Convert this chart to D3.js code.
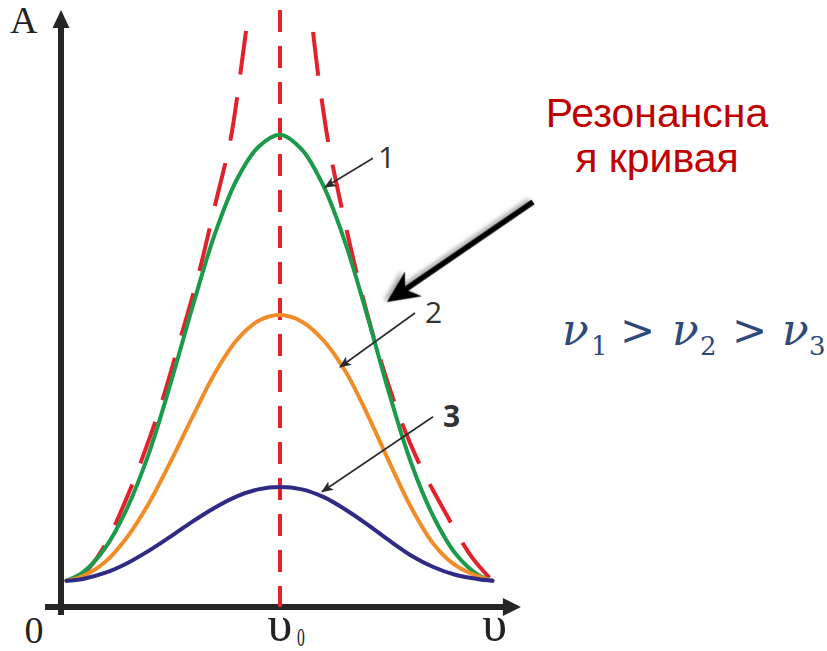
<!DOCTYPE html>
<html>
<head>
<meta charset="utf-8">
<script src="https://cdn.jsdelivr.net/npm/d3@7"></script>
<style>
  html, body { margin: 0; padding: 0; background: #ffffff; }
  svg { display: block; }
</style>
</head>
<body>
<svg id="chart" width="827" height="651"></svg>
<script>
// Driving frequency grid (ν0 = 1)
const nu = [0.025, 0.1, 0.2, 0.3, 0.4, 0.5, 0.6, 0.7, 0.8, 0.9, 1.0,
            1.1, 1.2, 1.3, 1.4, 1.5, 1.6, 1.7, 1.8, 1.9, 1.97];
// Amplitude curves for three damping levels
const amp1 = [0.44, 0.58, 0.98, 1.64, 2.56, 3.74, 5.02, 6.22, 7.14, 7.70, 7.91,
              7.66, 7.04, 6.08, 4.86, 3.56, 2.40, 1.52, 0.90, 0.55, 0.44];
const amp2 = [0.44, 0.52, 0.75, 1.16, 1.73, 2.43, 3.18, 3.90, 4.46, 4.79, 4.89,
              4.78, 4.46, 3.94, 3.22, 2.42, 1.66, 1.06, 0.70, 0.52, 0.44];
const amp3 = [0.44, 0.47, 0.57, 0.73, 0.94, 1.18, 1.43, 1.66, 1.85, 1.97, 2.01,
              1.97, 1.84, 1.63, 1.38, 1.11, 0.86, 0.67, 0.54, 0.47, 0.44];
// Resonance envelope, left and right branches (from the top down)
const envLeftNu  = [0.845, 0.818, 0.804, 0.772, 0.700, 0.630, 0.543, 0.453, 0.368, 0.296, 0.196, 0.106, 0.025];
const envLeftA   = [9.65, 8.91, 8.53, 7.79, 6.68, 5.60, 4.47, 3.35, 2.46, 1.79, 1.01, 0.57, 0.44];
const envRightNu = [1.151, 1.175, 1.190, 1.221, 1.281, 1.350, 1.432, 1.530, 1.622, 1.740, 1.875, 1.97];
const envRightA  = [9.63, 8.89, 8.51, 7.77, 6.70, 5.60, 4.47, 3.35, 2.51, 1.68, 0.84, 0.44];
// Curve labels and the points they point at
const curveNames = ["1", "2", "3"];
const pointerNu  = [1.205, 1.274, 1.192];
const pointerA   = [7.03, 4.02, 1.93];
// Axis labels
const nu0 = 1;
const xTickNu   = [0, 1, 1.98];
const xTickText = ["0", "υ", "υ"];
const xTickSub  = ["", "0", ""];
const axisMaxNu = 2.1;
const axisMaxA  = 10;
const titleLines = ["Резонансна", "я кривая"];

const svg = d3.select("#chart");
const x = d3.scaleLinear().domain([0, 2]).range([61, 499]);
const y = d3.scaleLinear().domain([0, 10]).range([607, 10]);

const axisColor = "#262626";
const colors = ["#1b9a4b", "#f28c28", "#2f2a85"];
const red = "#e3212b";

const defs = svg.append("defs");
defs.append("marker")
  .attr("id", "tip").attr("viewBox", "0 0 12 10")
  .attr("refX", 11).attr("refY", 5)
  .attr("markerWidth", 12).attr("markerHeight", 10)
  .attr("markerUnits", "userSpaceOnUse").attr("orient", "auto")
  .append("path").attr("d", "M0,0 L12,5 L0,10 L3,5 Z").attr("fill", "#2b2b2b");
const shadow = defs.append("filter").attr("id", "shadow")
  .attr("x", "-20%").attr("y", "-20%").attr("width", "140%").attr("height", "140%");
shadow.append("feDropShadow").attr("dx", 2).attr("dy", 3)
  .attr("stdDeviation", 2).attr("flood-color", "#000").attr("flood-opacity", 0.35);

// Axes with arrowheads
const ax = svg.append("g");
ax.append("line")
  .attr("x1", x(0)).attr("x2", x(0))
  .attr("y1", y(0) + 8).attr("y2", y(axisMaxA) + 16)
  .attr("stroke", axisColor).attr("stroke-width", 6);
ax.append("path")
  .attr("d", `M${x(0)},${y(axisMaxA)} L${x(0) + 8.5},${y(axisMaxA) + 18} L${x(0) - 8.5},${y(axisMaxA) + 18} Z`)
  .attr("fill", axisColor);
ax.append("line")
  .attr("x1", x(0) - 16).attr("x2", x(axisMaxNu) - 16)
  .attr("y1", y(0)).attr("y2", y(0))
  .attr("stroke", axisColor).attr("stroke-width", 6);
ax.append("path")
  .attr("d", `M${x(axisMaxNu)},${y(0)} L${x(axisMaxNu) - 18},${y(0) - 9} L${x(axisMaxNu) - 18},${y(0) + 9} Z`)
  .attr("fill", axisColor);

// Resonance line at ν0
svg.append("line")
  .attr("x1", x(nu0)).attr("x2", x(nu0))
  .attr("y1", y(axisMaxA)).attr("y2", y(0))
  .attr("stroke", red).attr("stroke-width", 4)
  .attr("stroke-dasharray", "22 14");

// Resonance envelope
const line = d3.line()
  .x(d => x(d[0])).y(d => y(d[1]))
  .curve(d3.curveCatmullRom.alpha(0.5));
[[envLeftNu, envLeftA], [envRightNu, envRightA]].forEach(([ns, as]) => {
  svg.append("path")
    .attr("d", line(ns.map((n, i) => [n, as[i]])))
    .attr("fill", "none").attr("stroke", red).attr("stroke-width", 4)
    .attr("stroke-dasharray", "44 23");
});

// Amplitude curves
[amp1, amp2, amp3].forEach((as, k) => {
  svg.append("path")
    .attr("d", line(nu.map((n, i) => [n, as[i]])))
    .attr("fill", "none").attr("stroke", colors[k]).attr("stroke-width", 4)
    .attr("stroke-linecap", "round");
});

// Curve labels with pointers
const labelOffsets = [[48, -29], [75, -54], [111, -75]];
curveNames.forEach((name, i) => {
  const tx = x(pointerNu[i]), ty = y(pointerA[i]);
  const sx = tx + labelOffsets[i][0], sy = ty + labelOffsets[i][1];
  svg.append("line")
    .attr("x1", sx).attr("y1", sy).attr("x2", tx).attr("y2", ty)
    .attr("stroke", "#2b2b2b").attr("stroke-width", 1.6)
    .attr("marker-end", "url(#tip)");
  svg.append("text")
    .attr("x", sx + (i === 0 ? 5 : 10)).attr("y", sy + 10)
    .attr("font-family", "'Open Sans', sans-serif")
    .attr("font-size", 30)
    .attr("font-weight", i === 2 ? 700 : 400)
    .attr("fill", "#333333")
    .text(name);
});

// Big pointer to the envelope
const bx0 = 533, by0 = 202, bx1 = 387, by1 = 302;
const ang = Math.atan2(by1 - by0, bx1 - bx0);
const bigArrow = svg.append("g").attr("filter", "url(#shadow)")
  .attr("transform", `translate(${bx1},${by1}) rotate(${ang * 180 / Math.PI})`);
const len = Math.hypot(bx1 - bx0, by1 - by0);
bigArrow.append("line")
  .attr("x1", -len).attr("y1", 0).attr("x2", -20).attr("y2", 0)
  .attr("stroke", "#000").attr("stroke-width", 5.5);
bigArrow.append("path")
  .attr("d", "M0,0 L-32,-15 L-22,0 L-32,15 Z")
  .attr("fill", "#000");

// Axis labels
svg.append("text")
  .attr("x", 10).attr("y", 33)
  .attr("font-family", "'Liberation Serif', serif").attr("font-size", 38)
  .attr("fill", "#222").text("A");
xTickNu.forEach((n, i) => {
  const cx = i === 0 ? x(n) - 27 : x(n);
  svg.append("text")
    .attr("x", cx).attr("y", i === 0 ? 643 : 641)
    .attr("text-anchor", "middle")
    .attr("font-family", "'Liberation Serif', serif")
    .attr("font-size", i === 0 ? 38 : 50)
    .attr("fill", "#222").text(xTickText[i]);
  if (xTickSub[i]) {
    svg.append("text")
      .attr("transform", `translate(${cx + 17},646) scale(0.6,1)`)
      .attr("font-family", "'Liberation Serif', serif")
      .attr("font-size", 26).attr("fill", "#222").text(xTickSub[i]);
  }
});

// Title of the envelope
svg.append("text")
  .attr("text-anchor", "middle")
  .attr("font-family", "'Liberation Sans', Arial, sans-serif")
  .attr("font-size", 41).attr("fill", "#c00000")
  .selectAll("tspan").data(titleLines).join("tspan")
  .attr("x", 657).attr("y", (d, i) => 127 + i * 45)
  .text(d => d);

// Damping order
const formula = svg.append("text")
  .attr("font-family", "'DejaVu Serif', serif")
  .attr("fill", "#2e4a7a");
const parts = [
  { t: "ν", x: 562, kind: "v" }, { t: "1", x: 591, kind: "s" },
  { t: ">", x: 620, kind: "g" }, { t: "ν", x: 672, kind: "v" },
  { t: "2", x: 700, kind: "s" }, { t: ">", x: 732, kind: "g" },
  { t: "ν", x: 782, kind: "v" }, { t: "3", x: 809, kind: "s" }
];
parts.forEach(p => {
  formula.append("tspan")
    .attr("x", p.x).attr("y", p.kind === "s" ? 355 : 345)
    .attr("font-size", p.kind === "s" ? 26 : (p.kind === "g" ? 42 : 44))
    .attr("font-style", p.kind === "v" ? "italic" : "normal")
    .attr("font-weight", p.kind === "g" ? 300 : 400)
    .text(p.t);
});
</script>
</body>
</html>
